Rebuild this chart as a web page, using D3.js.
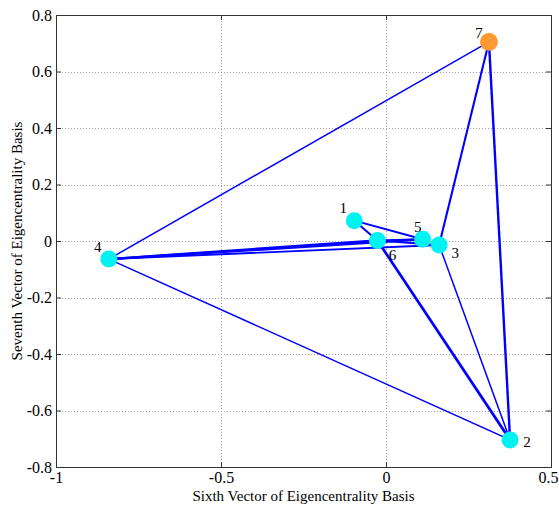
<!DOCTYPE html>
<html><head><meta charset="utf-8">
<script src="https://cdn.jsdelivr.net/npm/d3@7"></script>
<style>body{margin:0;background:#fff}svg{display:block}text{font-family:"Liberation Serif","Times New Roman",serif;fill:#000}</style>
</head><body><svg id="c" width="559" height="506"></svg>
<script>
const nodeIds = [1,2,3,4,5,6,7];
const nodeX = [-0.096, 0.376, 0.161, -0.840, 0.111, -0.026, 0.312];
const nodeY = [0.072, -0.704, -0.014, -0.064, 0.006, 0.002, 0.705];
const nodeGroup = ["a","a","a","a","a","a","b"];
const labelPos = ["nw","e","se","nw","n","s","w"];
const edgeFrom = [7,7,7,4,4,4,4,1,1,6,6,6,3];
const edgeTo   = [4,3,2,2,5,6,3,6,5,2,5,3,2];
const edgeWeight=[1,1.4,1.6,1,1.6,1.6,1.3,1.3,1.3,1.8,1.3,1.3,1];
const xTicks = [-1,-0.5,0,0.5];
const yTicks = [-0.8,-0.6,-0.4,-0.2,0,0.2,0.4,0.6,0.8];
const xLabel = "Sixth Vector of Eigencentrality Basis";
const yLabel = "Seventh Vector of Eigencentrality Basis";

const svg = d3.select("#c");
const L=56,R=551,T=15,B=467;
const x = d3.scaleLinear().domain([-1,0.5]).range([L,R]);
const y = d3.scaleLinear().domain([-0.8,0.8]).range([B,T]);
const fmt = v => (Math.abs(v)<1e-9?"0":String(v));

// grid
const g = svg.append("g");
g.selectAll(".gx").data(xTicks.slice(1,-1)).join("line")
 .attr("x1",d=>Math.round(x(d))+0.5).attr("x2",d=>Math.round(x(d))+0.5).attr("y1",T).attr("y2",B)
 .attr("stroke","#a0a0a0").attr("stroke-dasharray","1,2");
g.selectAll(".gy").data(yTicks.slice(1,-1)).join("line")
 .attr("y1",d=>Math.round(y(d))+0.5).attr("y2",d=>Math.round(y(d))+0.5).attr("x1",L).attr("x2",R)
 .attr("stroke","#a0a0a0").attr("stroke-dasharray","1,2");

// axes
const ax = (gen, tr) => svg.append("g").attr("transform",tr).call(gen);
const styleAx = sel => { sel.select(".domain").remove(); sel.selectAll("line").attr("stroke","#333"); sel.selectAll("text").attr("font-size","16px").attr("font-family","Liberation Serif, serif").attr("fill","#000"); };
const xb = ax(d3.axisBottom(x).tickValues(xTicks).tickFormat(fmt).tickSizeInner(-5).tickSizeOuter(0).tickPadding(5), `translate(0,${B})`).call(styleAx);
xb.selectAll(".tick text").filter(d=>d===xTicks[xTicks.length-1]).attr("dx",-3);
ax(d3.axisTop(x).tickValues(xTicks).tickFormat("").tickSizeInner(-5).tickSizeOuter(0), `translate(0,${T})`).call(styleAx);
ax(d3.axisLeft(y).tickValues(yTicks).tickFormat(fmt).tickSizeInner(-5).tickSizeOuter(0).tickPadding(4), `translate(${L},0)`).call(styleAx);
ax(d3.axisRight(y).tickValues(yTicks).tickFormat("").tickSizeInner(-5).tickSizeOuter(0), `translate(${R},0)`).call(styleAx);
svg.append("rect").attr("x",L+0.5).attr("y",T+0.5).attr("width",R-L).attr("height",B-T)
 .attr("fill","none").attr("stroke","#333").attr("stroke-width",1);

svg.append("text").attr("x",(L+R)/2).attr("y",501).attr("text-anchor","middle").attr("font-size","15px").text(xLabel);
svg.append("text").attr("transform",`translate(22,${(T+B)/2}) rotate(-90)`).attr("text-anchor","middle").attr("font-size","15px").text(yLabel);

// edges
const nodes = nodeIds.map((id,i)=>({id,x:nodeX[i],y:nodeY[i],grp:nodeGroup[i],lp:labelPos[i]}));
const byId = new Map(nodes.map(n=>[n.id,n]));
const edges = edgeFrom.map((f,i)=>({s:byId.get(f),t:byId.get(edgeTo[i]),w:edgeWeight[i]}));
svg.append("g").selectAll("line").data(edges).join("line")
 .attr("x1",d=>x(d.s.x)).attr("y1",d=>y(d.s.y)).attr("x2",d=>x(d.t.x)).attr("y2",d=>y(d.t.y))
 .attr("stroke","#0000ff").attr("stroke-width",d=>d.w*1.5);

// nodes
svg.append("g").selectAll("circle").data(nodes).join("circle")
 .attr("cx",d=>x(d.x)).attr("cy",d=>y(d.y)).attr("r",d=>d.grp==="b"?9:8.5)
 .attr("fill",d=>d.grp==="b"?"#ff9933":"#00f2f2");

const off = {nw:[-11,-7.5],w:[-10,-3.5],n:[-5,-7.5],se:[16,13.5],s:[15,20],e:[17,7.5]};
svg.append("g").selectAll("text").data(nodes).join("text")
 .attr("x",d=>x(d.x)+off[d.lp][0]).attr("y",d=>y(d.y)+off[d.lp][1])
 .attr("text-anchor","middle").attr("font-size","15px").text(d=>d.id);
</script></body></html>
